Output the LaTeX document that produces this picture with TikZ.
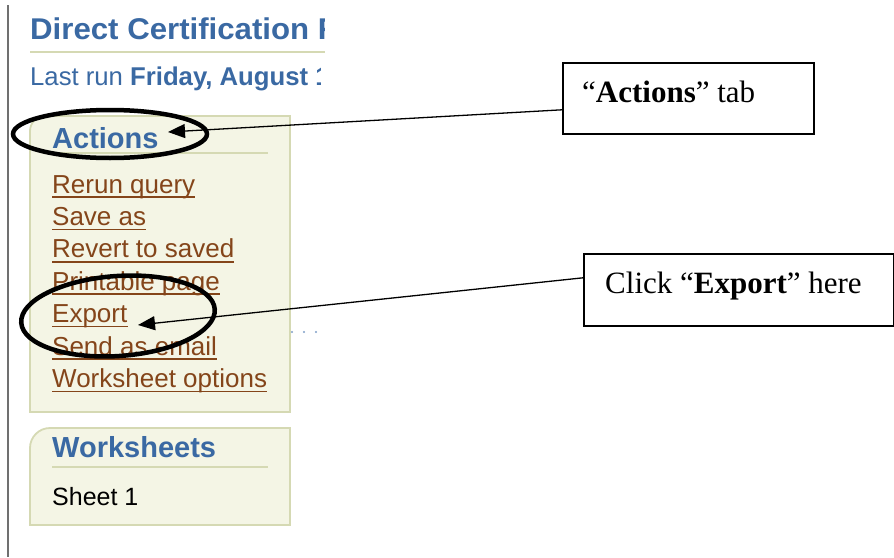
\documentclass[tikz,border=0pt]{standalone}
\usepackage{fontspec}
\setmainfont{Liberation Serif}
\newfontfamily\ui{Liberation Sans}
\newfontfamily\uititle[FakeStretch=1.04]{Liberation Sans}
\usetikzlibrary{arrows.meta}
\definecolor{hdblue}{HTML}{3A69A3}
\definecolor{linkbrown}{HTML}{84451A}
\definecolor{panelfill}{HTML}{F4F5E5}
\definecolor{panelline}{HTML}{D5D9B3}
\definecolor{railgray}{HTML}{707070}
\definecolor{dotblue}{HTML}{7F9FC8}
\begin{document}
\begin{tikzpicture}[x=1pt,y=-1pt,
  panel/.style={fill=panelfill, draw=panelline, line width=1.8pt},
  sep/.style={draw=panelline, line width=1.6pt},
  head/.style={anchor=base west, inner sep=0pt, text=hdblue, font=\ui\bfseries\fontsize{29}{32}\selectfont},
  link/.style={anchor=base west, inner sep=0pt, text=linkbrown, font=\ui\fontsize{26}{28}\selectfont},
  uline/.style={draw=linkbrown, line width=1.6pt},
  callout/.style={draw=black, line width=1.6pt, fill=white, inner sep=0pt},
  callouttext/.style={anchor=base west, inner sep=0pt, font=\fontsize{31}{34}\selectfont},
  pointer/.style={draw=black, line width=1.3pt, -{Triangle[length=17pt,width=14pt]}},
  hilite/.style={draw=black, line width=4.5pt}]
\useasboundingbox (0,0) rectangle (894,557);
\fill[white] (0,0) rectangle (894,557);

% left rail
\draw[railgray, line width=2.5pt] (8,5) -- (8,557);

% title and last run (clipped)
\begin{scope}
  \clip (0,0) rectangle (324,60);
  \node[anchor=base west, inner sep=0pt, text=hdblue, font=\uititle\bfseries\fontsize{30}{32}\selectfont] (title) at (30,39) {Direct Certification Report};
\end{scope}
\begin{scope}
  \clip (0,60) rectangle (320,100);
  \node[anchor=base west, inner sep=0pt, text=hdblue, font=\ui\fontsize{25.7}{28}\selectfont] (lastrun) at (30,85) {Last run \textbf{Friday, August 1}};
\end{scope}
\draw[sep, line width=2pt] (30,52) -- (325,52);

% Actions panel
\draw[panel] (30,412) -- (30,131) arc[start angle=180, end angle=270, radius=15] -- (290,116) -- (290,412) -- cycle;
\node[head] (acthead) at (52,148) {Actions};
\draw[sep] (52,153) -- (268,153);
\foreach \t [count=\i from 0] in {Rerun query, Save as, Revert to saved, Printable page, Export, Send as email, Worksheet options} {
  \node[link] (l\i) at (52,193+32.4*\i) {\t};
  \draw[uline] ([yshift=-4pt]l\i.base west) -- ([yshift=-4pt]l\i.base east);
}
\foreach \x in {292,304,316} \fill[dotblue] (\x,332) circle (1.2pt);

% Worksheets panel
\draw[panel] (30,525) -- (30,448) arc[start angle=180, end angle=270, radius=20] -- (290,428) -- (290,525) -- cycle;
\node[head] (wshead) at (52,457) {Worksheets};
\draw[sep] (52,467) -- (268,467);
\node[anchor=base west, inner sep=0pt, text=black, font=\ui\fontsize{25}{28}\selectfont] (sheet1) at (52,505) {Sheet 1};

% highlight ellipses
\draw[hilite] (110,134) ellipse [x radius=97pt, y radius=24pt];
\draw[hilite, rotate around={4:(118,316)}] (118,316) ellipse [x radius=97pt, y radius=40pt];

% callout boxes
\node[callout, minimum width=251pt, minimum height=71pt, anchor=north west] (tabbox) at (562,62) {};
\node[callouttext] (tabtext) at (582,102) {“\textbf{Actions}” tab};
\node[callout, minimum width=310pt, minimum height=72pt, anchor=north west] (expbox) at (583,253) {};
\node[callouttext] (exptext) at (605,293) {Click “\textbf{Export}” here};

% pointers
\coordinate (acttip) at (168,132);
\coordinate (exptip) at (138,325);
\draw[pointer] ([yshift=-11.5pt]tabbox.west) -- (acttip);
\draw[pointer] ([yshift=12pt]expbox.west) -- (exptip);
\end{tikzpicture}
\end{document}
